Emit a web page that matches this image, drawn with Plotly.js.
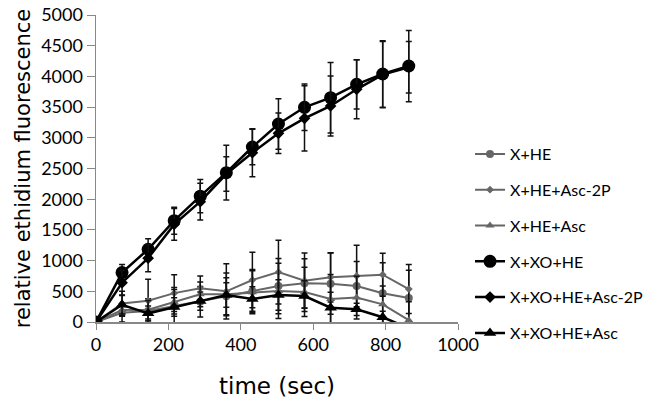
<!DOCTYPE html>
<html>
<head>
<meta charset="utf-8">
<script src="https://cdn.plot.ly/plotly-3.0.1.min.js"></script>
<style>html,body{margin:0;padding:0;background:#fff;}#chart{width:662px;height:409px;}</style>
</head>
<body>
<div id="chart"></div>
<script>
var time = [0, 72, 144, 216, 288, 360, 432, 504, 576, 648, 720, 792, 864];
var seriesNames = ["X+HE", "X+HE+Asc-2P", "X+HE+Asc", "X+XO+HE", "X+XO+HE+Asc-2P", "X+XO+HE+Asc"];

var xHE        = [0, 150, 180, 260, 330, 420, 505, 586, 630, 625, 586, 467, 391];
var xHEAsc2P   = [0, 300, 345, 470, 550, 500, 684, 812, 673, 727, 749, 771, 537];
var xHEAsc     = [0, 195, 200, 330, 450, 450, 483, 505, 490, 375, 397, 288, 30];
var xXOHE      = [0, 805, 1185, 1650, 2050, 2432, 2850, 3225, 3497, 3653, 3871, 4039, 4169];
var xXOHEAsc2P = [0, 640, 1040, 1590, 1960, 2410, 2757, 3073, 3317, 3518, 3790, 4030, 4150];
var xXOHEAsc   = [0, 280, 141, 245, 340, 440, 374, 440, 423, 233, 206, 77, -100];

var errHE        = [0, 150, 200, 300, 250, 300, 350, 450, 400, 500, 400, 500, 450];
var errHEAsc2P   = [0, 200, 350, 300, 200, 450, 450, 520, 450, 400, 500, 350, 400];
var errHEAsc     = [0, 100, 150, 200, 200, 350, 350, 450, 400, 400, 350, 300, 300];
var errXOHE      = [0, 130, 170, 220, 270, 445, 290, 410, 380, 575, 400, 540, 580];
var errXOHEAsc2P = [0, 200, 220, 260, 300, 280, 390, 330, 530, 490, 480, 540, 420];
var errXOHEAsc   = [0, 150, 120, 150, 150, 200, 200, 250, 250, 250, 100, 100, 0];

var values = [xHE, xHEAsc2P, xHEAsc, xXOHE, xXOHEAsc2P, xXOHEAsc];
var errors = [errHE, errHEAsc2P, errHEAsc, errXOHE, errXOHEAsc2P, errXOHEAsc];
var colors = ["#666666", "#666666", "#666666", "#000000", "#000000", "#000000"];
var symbols = ["circle", "diamond", "triangle-up", "circle", "diamond", "triangle-up"];
var sizes = [8, 6, 8, 13, 9, 11];
var widths = [2, 2, 2, 2.5, 2.5, 2.5];

var traces = [];
for (var i = 0; i < seriesNames.length; i++) {
  traces.push({
    x: time, y: values[i], name: seriesNames[i], type: "scatter", mode: "lines+markers",
    legendgroup: "g" + i,
    line: {color: colors[i], width: widths[i]},
    marker: {color: colors[i], symbol: symbols[i], size: sizes[i]},
    error_y: {type: "data", array: errors[i], visible: true, color: "#111111", thickness: 1.5, width: 3}
  });
}

var fontTick = "Lato, 'Open Sans', sans-serif";
var layout = {
  width: 662, height: 409,
  margin: {l: 96, r: 204, t: 15, b: 87, autoexpand: false},
  paper_bgcolor: "#ffffff", plot_bgcolor: "#ffffff",
  showlegend: true,
  legend: {xref: "container", yref: "container", x: 0.71, xanchor: "left", y: 0.665, yanchor: "top",
           font: {family: fontTick, size: 16, color: "#000"},
           tracegroupgap: 12, itemwidth: 30, bgcolor: "rgba(0,0,0,0)"},
  xaxis: {range: [0, 1000], dtick: 200, tick0: 0, showgrid: false, zeroline: false,
          showline: true, linecolor: "#888888", linewidth: 1.5, ticks: "outside", ticklen: 6, tickcolor: "#888888",
          tickfont: {family: fontTick, size: 18, color: "#000"},
          title: {text: "time (sec)", font: {family: "'DejaVu Sans', sans-serif", size: 23, color: "#000"}, standoff: 24}},
  yaxis: {range: [0, 5000], dtick: 500, tick0: 0, showgrid: false, zeroline: false,
          showline: true, linecolor: "#888888", linewidth: 1.5, ticks: "outside", ticklen: 8, tickcolor: "#888888",
          tickfont: {family: fontTick, size: 18, color: "#000"},
          title: {text: "relative ethidium fluorescence", font: {family: "'DejaVu Sans', sans-serif", size: 21, color: "#000"}, standoff: 5}}
};

Plotly.newPlot("chart", traces, layout, {displayModeBar: false, staticPlot: true});
</script>
</body>
</html>
